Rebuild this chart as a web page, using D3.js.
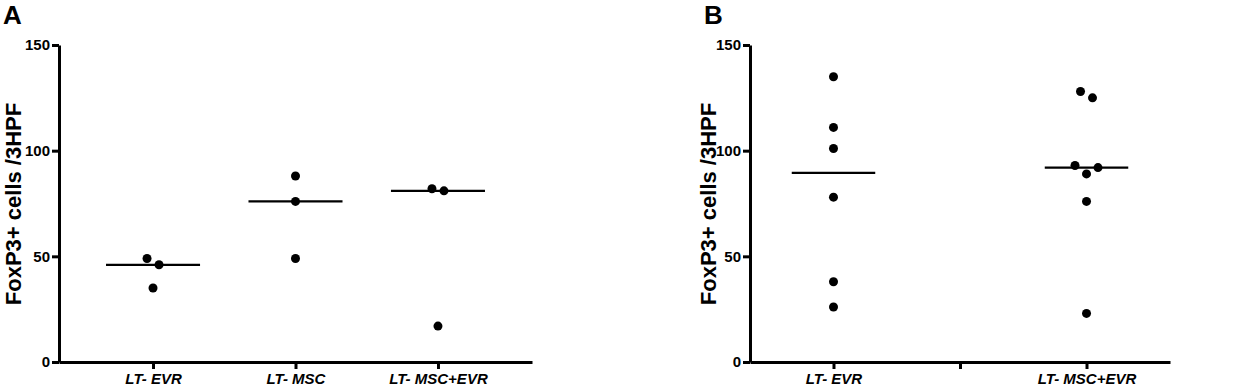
<!DOCTYPE html>
<html>
<head>
<meta charset="utf-8">
<script src="https://cdn.jsdelivr.net/npm/d3@7"></script>
<style>
  html, body { margin: 0; padding: 0; background: #fff; }
  svg { display: block; font-family: "Liberation Sans", Arial, Helvetica, sans-serif; }
  .axis path, .axis line { stroke: #000; stroke-width: 3; }
  .axis text { font-size: 15px; font-weight: bold; fill: #000; }
  .x-axis text { font-style: italic; font-size: 15px; }
</style>
</head>
<body>
<svg id="chart" width="1239" height="387"></svg>
<script>
// valeurs
const yTicks = [0, 50, 100, 150];
const yLabel = "FoxP3+ cells /3HPF";

const panelACategories = ["LT- EVR", "LT- MSC", "LT- MSC+EVR"];
const panelAValues = [
    [49, 46, 35],
    [88, 76, 49],
    [82, 81, 17]
];

const panelBCategories = ["LT- EVR", "", "LT- MSC+EVR"];
const panelBValues = [
    [135, 111, 101, 78, 38, 26],
    [],
    [128, 125, 93, 92, 89, 76, 23]
];

const svg = d3.select("#chart");

// décalage horizontal des points qui se chevauchent (comme Prism)
function spreadOffsets(values, y, r) {
    const sorted = values.map((v, i) => ({ v, i })).sort((a, b) => b.v - a.v);
    const offsets = new Array(values.length).fill(0);
    const clusters = [];
    sorted.forEach((p, k) => {
        if (k > 0 && Math.abs(y(sorted[k - 1].v) - y(p.v)) < 2 * r + 1) {
            clusters[clusters.length - 1].push(p);
        } else {
            clusters.push([p]);
        }
    });
    clusters.forEach(c => {
        if (c.length === 2) {
            offsets[c[0].i] = -6;
            offsets[c[1].i] = 6;
        } else if (c.length >= 3) {
            c.forEach((p, k) => {
                offsets[p.i] = k === 0 ? -11.5 : k === 1 ? 11.5 : 0;
            });
        }
    });
    return offsets;
}

function drawPanel(cfg) {
    const g = svg.append("g");

    const x = d3.scalePoint()
        .domain(cfg.categories)
        .range(cfg.xRange)
        .padding(0.66);

    const y = d3.scaleLinear()
        .domain([0, 150])
        .range([362, 45]);

    g.append("g")
        .attr("class", "axis x-axis")
        .attr("transform", "translate(0,362)")
        .call(d3.axisBottom(x).tickSize(7).tickSizeOuter(0).tickPadding(4));

    g.append("g")
        .attr("class", "axis y-axis")
        .attr("transform", `translate(${cfg.xRange[0]},0)`)
        .call(d3.axisLeft(y).tickValues(yTicks).tickSize(7).tickSizeOuter(0).tickPadding(2));

    const step = x.step();
    const r = 4.5;

    cfg.categories.forEach((cat, ci) => {
        const vals = cfg.values[ci];
        if (!vals.length) return;
        const cx = x(cat);
        const med = d3.median(vals);

        g.append("line")
            .attr("x1", cx - 0.33 * step)
            .attr("x2", cx + 0.33 * step)
            .attr("y1", y(med))
            .attr("y2", y(med))
            .attr("stroke", "#000")
            .attr("stroke-width", 2.2);

        const offs = spreadOffsets(vals, y, r);
        g.selectAll(null)
            .data(vals)
            .enter().append("circle")
            .attr("cx", (d, i) => cx + offs[i])
            .attr("cy", d => y(d))
            .attr("r", r)
            .attr("fill", "#000");
    });

    g.append("text")
        .attr("transform", `translate(${cfg.labelX},204) rotate(-90)`)
        .attr("text-anchor", "middle")
        .style("font-size", "22px")
        .style("font-weight", "bold")
        .text(yLabel);

    g.append("text")
        .attr("x", cfg.letterX)
        .attr("y", 24)
        .style("font-size", "26px")
        .style("font-weight", "bold")
        .text(cfg.letter);
}

drawPanel({
    letter: "A", letterX: 3, labelX: 21,
    categories: panelACategories, values: panelAValues,
    xRange: [59, 532]
});

drawPanel({
    letter: "B", letterX: 704, labelX: 716,
    categories: panelBCategories, values: panelBValues,
    xRange: [750, 1170]
});
</script>
</body>
</html>
